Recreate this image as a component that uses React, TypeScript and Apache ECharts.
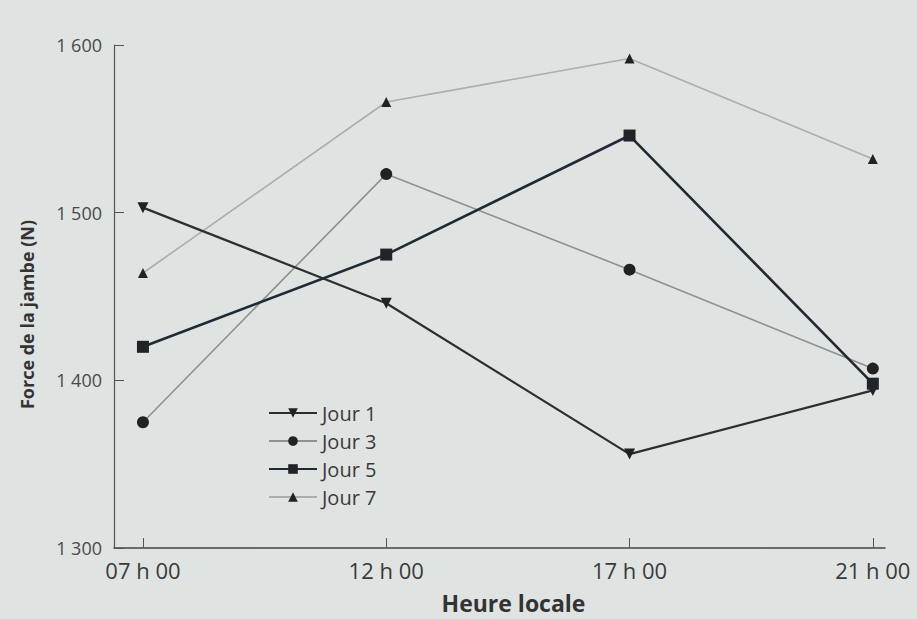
import React, { useEffect, useRef } from "react";
import * as echarts from "echarts";

const categories = ["07 h 00", "12 h 00", "17 h 00", "21 h 00"];
const jour1 = [1503, 1446, 1356, 1394];
const jour3 = [1375, 1523, 1466, 1407];
const jour5 = [1420, 1475, 1546, 1398];
const jour7 = [1464, 1566, 1592, 1532];
const yTicks = [1300, 1400, 1500, 1600];

const pairs = (arr: number[]) => arr.map((v, i) => [i, v]);

export default function App() {
  const ref = useRef<HTMLDivElement>(null);
  useEffect(() => {
    document.body.style.margin = "0";
    if (!ref.current) return;
    const chart = echarts.init(ref.current, null, { renderer: "svg" });
    const font = "'Open Sans', 'Liberation Sans', sans-serif";
    chart.setOption({
      animation: false,
      backgroundColor: "#dfe3e1",
      textStyle: { fontFamily: font },
      grid: { left: 114, top: 45, right: 32, bottom: 66 },
      legend: {
        orient: "vertical",
        left: 263,
        top: 398,
        itemGap: 8,
        itemWidth: 48,
        itemHeight: 12,
        textStyle: { fontSize: 20, color: "#3a3a3a", fontFamily: font },
        data: ["Jour 1", "Jour 3", "Jour 5", "Jour 7"],
      },
      xAxis: {
        type: "value",
        min: -0.119,
        max: 3.05,
        name: "Heure locale",
        nameLocation: "middle",
        nameGap: 43,
        nameTextStyle: { fontSize: 23, fontWeight: "bold", color: "#333", fontFamily: font, padding: [0, 0, 0, 28] },
        splitLine: { show: false },
        axisLine: { show: true, onZero: false, lineStyle: { color: "#444", width: 1.5 } },
        axisTick: { show: true, inside: true, length: 10, customValues: [0, 1, 2, 3], lineStyle: { color: "#555" } },
        axisLabel: {
          customValues: [0, 1, 2, 3],
          formatter: (v: number) => categories[Math.round(v)] ?? "",
          fontSize: 22,
          color: "#3a3a3a",
          margin: 11,
        },
      },
      yAxis: {
        type: "value",
        min: 1300,
        max: 1600,
        interval: 100,
        name: "Force de la jambe (N)",
        nameLocation: "middle",
        nameGap: 78,
        nameTextStyle: { fontSize: 18, fontWeight: "bold", color: "#333", fontFamily: font, padding: [0, 36, 0, 0] },
        splitLine: { show: false },
        axisLine: { show: true, onZero: false, lineStyle: { color: "#555", width: 1.2 } },
        axisTick: { show: true, inside: true, length: 10, lineStyle: { color: "#555" } },
        axisLabel: {
          customValues: yTicks,
          formatter: (v: number) => String(v).replace(/(\d)(\d{3})$/, "$1 $2"),
          fontSize: 18,
          color: "#4a4a4a",
          margin: 12,
        },
      },
      series: [
        {
          name: "Jour 1",
          type: "line",
          data: pairs(jour1),
          symbol: "triangle",
          symbolRotate: 180,
          symbolSize: 11,
          lineStyle: { color: "#2b2f2f", width: 2.2 },
          itemStyle: { color: "#222" },
          z: 3,
        },
        {
          name: "Jour 3",
          type: "line",
          data: pairs(jour3),
          symbol: "circle",
          symbolSize: 12,
          lineStyle: { color: "#8c9391", width: 1.6 },
          itemStyle: { color: "#222" },
          z: 2,
        },
        {
          name: "Jour 5",
          type: "line",
          data: pairs(jour5),
          symbol: "rect",
          symbolSize: 12,
          lineStyle: { color: "#1f2a33", width: 2.6 },
          itemStyle: { color: "#1f2428" },
          z: 4,
        },
        {
          name: "Jour 7",
          type: "line",
          data: pairs(jour7),
          symbol: "triangle",
          symbolSize: 10,
          lineStyle: { color: "#a9afac", width: 1.6 },
          itemStyle: { color: "#222" },
          z: 1,
        },
      ],
    });
    return () => chart.dispose();
  }, []);
  return <div ref={ref} style={{ width: 917, height: 619 }} />;
}
